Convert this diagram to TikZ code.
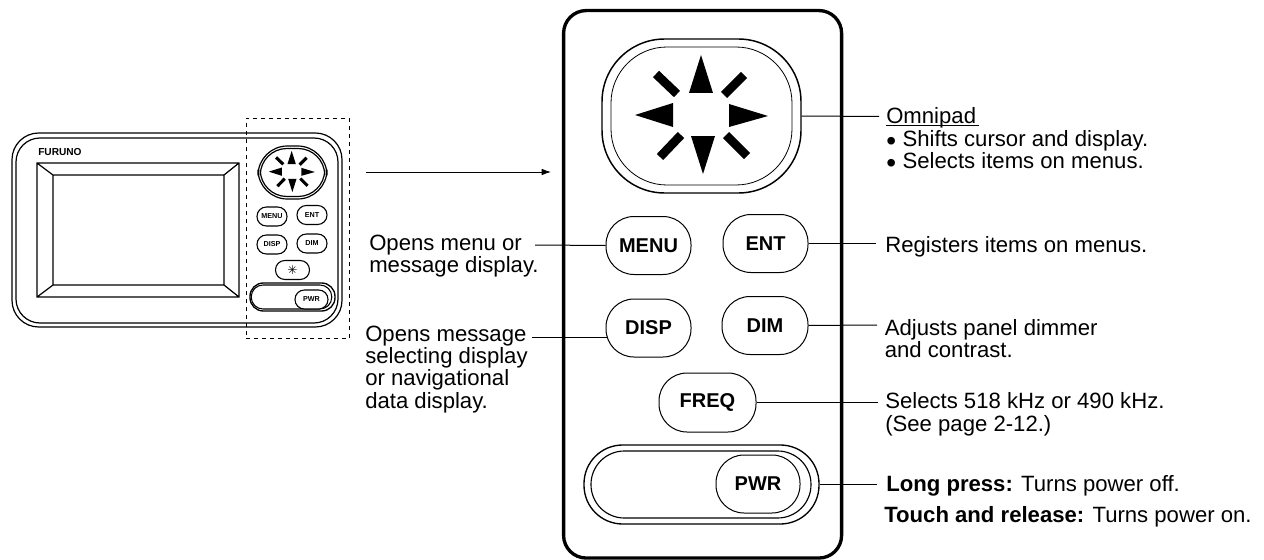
\documentclass[tikz,border=0pt]{standalone}
\usepackage{fontspec}
\setmainfont{Liberation Sans}
\newfontfamily\symfont{DejaVu Sans}
\usetikzlibrary{arrows.meta}
\newcommand{\fl}{\rule{0pt}{16pt}}
\newcommand{\bul}{\makebox[12.3pt][l]{\raisebox{-3pt}{\fontsize{21}{21}\selectfont •}}}
\tikzset{
  x=0.75pt,y=-0.75pt,
  sized/.style 2 args={minimum width=#1*0.75pt,minimum height=#2*0.75pt},
  pill/.style={draw=black,line width=0.75pt,fill=white,rounded corners=#1,inner sep=0pt},
  pill/.default=20pt,
  bigkey/.style={pill=21pt,font=\bfseries\fontsize{15}{15}\selectfont},
  smallkey/.style={pill=7pt,line width=0.8pt,font=\bfseries\fontsize{5.4}{5.4}\selectfont},
  lbl/.style={anchor=north west,inner sep=0pt,align=left,font=\fontsize{16.6}{16.8}\selectfont},
  conn/.style={draw=black,line width=0.75pt},
}
\newcommand{\padmarks}{%
  \fill (-1,-61) -- (-13,-23) -- (11,-23) -- cycle;
  \fill (-67,-1) -- (-29,-13) -- (-29,11) -- cycle;
  \fill (66,0) -- (27,-12) -- (27,11) -- cycle;
  \fill (1,58) -- (-11,20) -- (13,20) -- cycle;
  \draw[line width=\barw] (-46,-42) -- (-25,-22);
  \draw[line width=\barw] (42,-41) -- (22,-21);
  \draw[line width=\barw] (-42,41) -- (-21,19);
  \draw[line width=\barw] (45,40) -- (24,19);
}
\newlength{\barw}
\begin{document}
\begin{tikzpicture}
\useasboundingbox (0,0) rectangle (1264,560);
% small unit
\draw[line width=0.9pt,rounded corners=20pt] (12,133) rectangle (342,327);
\draw[line width=0.9pt,rounded corners=18pt] (16,138) rectangle (338,323);
\draw[line width=0.9pt] (37,163) rectangle (239,297) (53,175) rectangle (224,285)
  (37,163) -- (53,175) (239,163) -- (224,175) (37,297) -- (53,285) (239,297) -- (224,285);
\node[anchor=west,inner sep=0pt,font=\bfseries\fontsize{7.6}{8}\selectfont] (furuno) at (38,152.5) {FURUNO};
\node[draw=black,dashed,line width=0.6pt,sized={103.5}{220},inner sep=0pt] (zone) at (297.75,228) {};
\node[pill=22pt,line width=0.9pt,sized={69}{53}] (spadO) at (292.5,172.5) {};
\node[pill=20pt,line width=0.9pt,sized={64.5}{48}] (spadI) at (292.5,172.5) {};
\setlength{\barw}{2.3pt}
\begin{scope}[shift={(292,172)},x=0.26pt,y=-0.26pt]\padmarks\end{scope}
\node[smallkey,sized={30}{19}] (smenu) at (272,216.5) {MENU};
\node[smallkey,sized={30}{19}] (sent) at (312,215) {ENT};
\node[smallkey,sized={30}{19}] (sdisp) at (272,244.5) {DISP};
\node[smallkey,sized={30}{19}] (sdim) at (312,243.5) {DIM};
\node[pill=7pt,line width=0.8pt,sized={34}{19}] (sfreq) at (292.5,270) {\symfont\fontsize{9}{9}\selectfont ✳};
\node[pill=10pt,line width=1pt,sized={85}{28}] (spwrO) at (292.5,297) {};
\node[pill=8.8pt,line width=0.8pt,sized={80.5}{24}] (spwrI) at (291.5,297) {};
\node[smallkey,sized={33}{19}] (spwr) at (311.5,299.5) {PWR};
% arrow
\coordinate (arrS) at (366,172);
\coordinate (arrE) at (551,172);
\draw[conn,-{Latex[length=7pt,width=5pt]}] (arrS) -- (arrE);
% panel
\node[draw=black,line width=2.5pt,rounded corners=17pt,sized={278}{547.5},inner sep=0pt] (panel) at (702.6,284.3) {};
% labels
\node[lbl] (lomni) at (886,102) {\fl\underline{\smash{Omnipad}\kern2pt}\\\bul Shifts cursor and display.\\\bul Selects items on menus.};
\node[lbl] (lmenu) at (369,228.7) {\fl Opens menu or\\message display.};
\node[lbl] (lent) at (885,231) {\fl Registers items on menus.};
\node[lbl] (ldisp) at (365,319.4) {\fl Opens message\\selecting display\\or navigational\\data display.};
\node[lbl] (ldim) at (884.5,313.7) {\fl Adjusts panel dimmer\\and contrast.};
\node[lbl] (lfreq) at (885,387) {\fl Selects 518 kHz or 490 kHz.\\(See page 2-12.)};
\node[lbl] (lpwr1) at (886,469.4) {\fl\textbf{Long press:} Turns power off.};
\node[lbl] (lpwr2) at (884,501) {\fl\textbf{Touch and release:} Turns power on.};
% connector ends
\coordinate (cOmni) at (879,116.5);
\coordinate (cMenu) at (535,245);
\coordinate (cEnt) at (876,243.5);
\coordinate (cDisp) at (532,337);
\coordinate (cDispK) at (607,337);
\coordinate (cDim) at (877,325);
\coordinate (cFreq) at (878,402.5);
\coordinate (cPwr) at (877,484.5);
% omnipad and keys
\node[pill=47pt,line width=1.1pt,sized={199}{154}] (padO) at (701.5,116) {};
\node[pill=42pt,line width=0.6pt,sized={181}{138}] (padI) at (701.5,116) {};
\setlength{\barw}{6.6pt}
\begin{scope}[shift={(702,116)}]\padmarks\end{scope}
\node[bigkey,sized={85}{58}] (menu) at (648.5,245.5) {MENU};
\node[bigkey,sized={85}{58}] (ent) at (765.5,243.5) {ENT};
\node[bigkey,sized={85}{58}] (disp) at (648.5,328) {DISP};
\node[bigkey,sized={86}{58}] (dim) at (765,325.5) {DIM};
\node[bigkey,sized={97}{59}] (freq) at (707.5,402.5) {FREQ};
\node[pill=29pt,line width=1pt,sized={235}{79}] (pwrO) at (701.5,484.5) {};
\node[pill=25pt,line width=0.85pt,sized={220}{67}] (pwrI) at (701,484.5) {};
\node[bigkey,sized={84}{58}] (pwr) at (758,484) {PWR};
% connectors
\draw[conn] (padO.east) -- (cOmni);
\draw[conn] (cMenu) -- (menu.west);
\draw[conn] (ent.east) -- (cEnt);
\draw[conn] (cDisp) -- (cDispK);
\draw[conn] (dim.east) -- (cDim);
\draw[conn] (freq.east) -- (cFreq);
\draw[conn] (pwrO.east) -- (cPwr);
\end{tikzpicture}
\end{document}
